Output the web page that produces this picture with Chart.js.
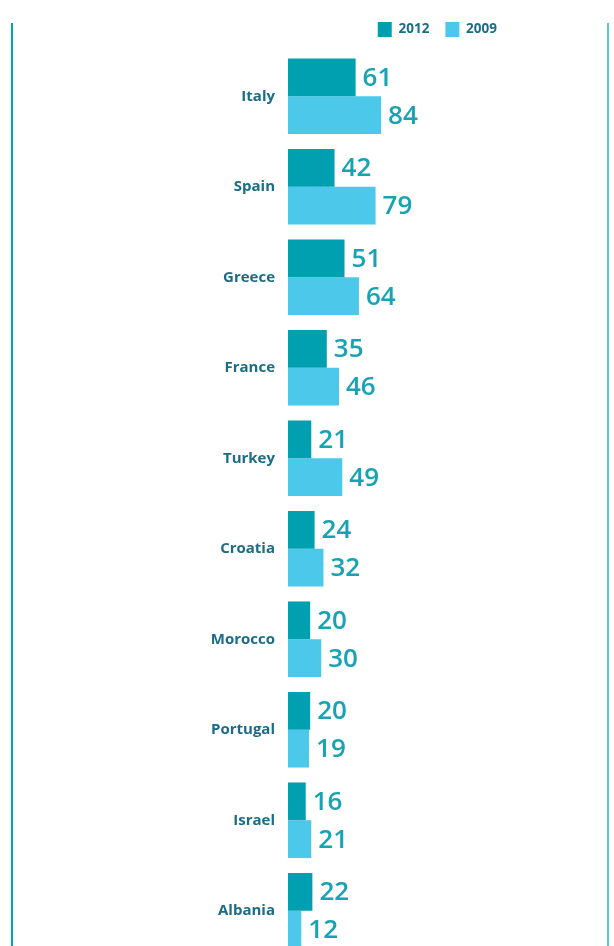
<!DOCTYPE html>
<html>
<head>
<meta charset="utf-8">
<script src="https://cdn.jsdelivr.net/npm/chart.js@4"></script>
<style>
  html, body { margin: 0; padding: 0; background: #fff; overflow: hidden; }
  #frame { position: absolute; left: 11px; top: 23px; width: 594px; height: 940px;
           border-left: 2px solid #00a3b5; border-right: 2px solid #5cc6d8; }
  #bars { position: absolute; left: 0; top: 0; }
</style>
</head>
<body>
<div id="frame"></div>
<!-- taller than the window: the y axis keeps ~22px of label padding below the last band -->
<canvas id="bars" width="614" height="978"></canvas>
<script>
// countries, top to bottom
var countries = ['Italy', 'Spain', 'Greece', 'France', 'Turkey', 'Croatia', 'Morocco', 'Portugal', 'Israel', 'Albania'];
var values2012 = [61, 42, 51, 35, 21, 24, 20, 20, 16, 22];
var values2009 = [84, 79, 64, 46, 49, 32, 30, 19, 21, 12];

var darkTeal = '#00a0b0';
var lightBlue = '#4bc8ea';

Chart.defaults.font.family = '"Open Sans", sans-serif';

// numbers printed just past the end of each bar
var valueLabels = {
  id: 'valueLabels',
  afterDatasetsDraw: function(chart){
    var ctx = chart.ctx;
    ctx.save();
    ctx.font = '600 26px "Open Sans"';
    ctx.fillStyle = '#17a3b3';
    ctx.textBaseline = 'middle';
    ctx.textAlign = 'left';
    chart.data.datasets.forEach(function(ds, i){
      chart.getDatasetMeta(i).data.forEach(function(bar, j){
        ctx.fillText(ds.data[j], bar.x + 7, bar.y + 1);
      });
    });
    ctx.restore();
  }
};

new Chart(document.getElementById('bars').getContext('2d'), {
  type: 'bar',
  data: {
    labels: countries,
    datasets: [
      { label: '2012', data: values2012, backgroundColor: darkTeal, borderWidth: 0 },
      { label: '2009', data: values2009, backgroundColor: lightBlue, borderWidth: 0 }
    ]
  },
  options: {
    indexAxis: 'y',
    responsive: false,
    animation: false,
    layout: { padding: { top: 6, right: 101, bottom: 0, left: 0 } },
    datasets: { bar: { categoryPercentage: 0.835, barPercentage: 1 } },
    plugins: {
      tooltip: { enabled: false },
      legend: {
        position: 'top',
        align: 'end',
        labels: {
          boxWidth: 14,
          boxHeight: 15,
          padding: 16,
          color: '#1b6d87',
          font: { size: 13.5, weight: 'bold' }
        }
      }
    },
    scales: {
      x: {
        position: 'top',
        min: 0,
        max: 203,
        ticks: { display: false },
        grid: { display: false },
        border: { display: false },
        afterFit: function(scale){ scale.height = 4; }
      },
      y: {
        ticks: { color: '#1b6d87', padding: 13, font: { size: 15, weight: 'bold' } },
        grid: { display: false, drawTicks: false },
        border: { display: false },
        afterFit: function(scale){ scale.width = 288; }
      }
    }
  },
  plugins: [valueLabels]
});
</script>
</body>
</html>
